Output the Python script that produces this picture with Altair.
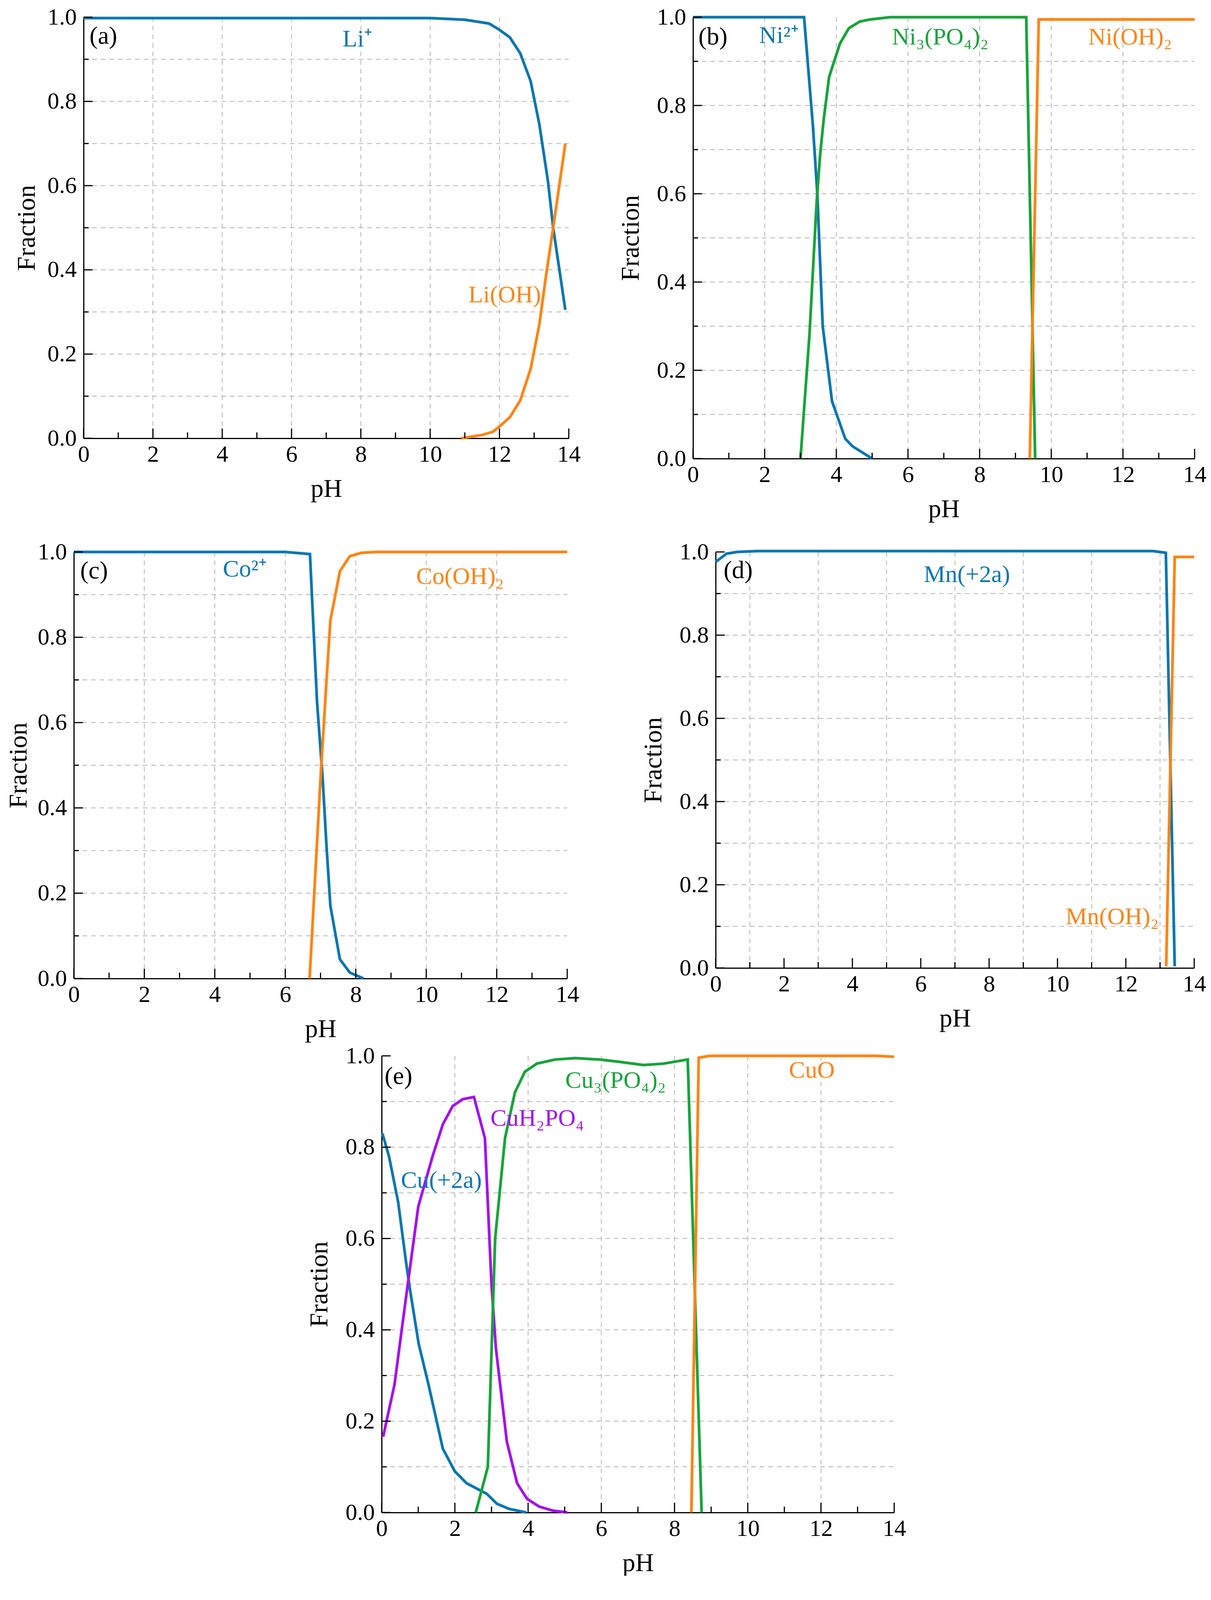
import altair as alt
import pandas as pd

FONT = "Liberation Serif"

# ---- (a) Li ----
li_plus_ph = [0, 10, 11.0, 11.7, 12.0, 12.3, 12.6, 12.9, 13.15, 13.4, 13.55, 13.9]
li_plus_frac = [0.998, 0.998, 0.994, 0.985, 0.97, 0.952, 0.914, 0.848, 0.746, 0.61, 0.5, 0.305]
li_oh_ph = [10.9, 11.5, 11.8, 12.0, 12.3, 12.6, 12.9, 13.15, 13.35, 13.55, 13.9]
li_oh_frac = [0.0, 0.008, 0.015, 0.028, 0.05, 0.09, 0.165, 0.27, 0.39, 0.5, 0.70]

# ---- (b) Ni ----
ni_plus_ph = [0, 3.1, 3.35, 3.47, 3.62, 3.88, 4.25, 4.45, 5.0]
ni_plus_frac = [1.0, 1.0, 0.75, 0.6, 0.3, 0.13, 0.045, 0.028, 0.0]
ni_po4_ph = [3.0, 3.25, 3.45, 3.55, 3.65, 3.8, 4.1, 4.35, 4.65, 4.95, 5.5, 9.3, 9.55]
ni_po4_frac = [0.0, 0.28, 0.58, 0.69, 0.77, 0.865, 0.94, 0.975, 0.99, 0.995, 1.0, 1.0, 0.0]
ni_oh_ph = [9.4, 9.65, 14.0]
ni_oh_frac = [0.0, 0.995, 0.995]

# ---- (c) Co ----
co_plus_ph = [0, 6.0, 6.7, 6.9, 7.06, 7.17, 7.28, 7.55, 7.83, 8.22]
co_plus_frac = [1.0, 1.0, 0.995, 0.65, 0.47, 0.31, 0.17, 0.045, 0.014, 0.0]
co_oh_ph = [6.69, 7.0, 7.17, 7.28, 7.55, 7.83, 8.16, 8.6, 14.0]
co_oh_frac = [0.0, 0.47, 0.7, 0.84, 0.955, 0.99, 0.998, 1.0, 1.0]

# ---- (d) Mn ----
mn_plus_ph = [0, 0.32, 0.63, 1.2, 12.8, 13.17, 13.43]
mn_plus_frac = [0.976, 0.996, 1.0, 1.002, 1.002, 0.998, 0.004]
mn_oh_ph = [13.18, 13.43, 14.0]
mn_oh_frac = [0.004, 0.988, 0.988]

# ---- (e) Cu ----
cu_plus_ph = [0.02, 0.2, 0.45, 0.68, 0.79, 1.01, 1.28, 1.67, 2.0, 2.32, 2.87, 3.15, 3.48, 3.95]
cu_plus_frac = [0.83, 0.78, 0.68, 0.54, 0.48, 0.37, 0.28, 0.14, 0.09, 0.064, 0.041, 0.019, 0.008, 0.0]
cuh2po4_ph = [0.04, 0.35, 0.68, 1.0, 1.39, 1.67, 1.94, 2.21, 2.52, 2.82, 3.0, 3.12, 3.42, 3.7, 3.97, 4.3, 4.68, 5.07]
cuh2po4_frac = [0.166, 0.28, 0.48, 0.67, 0.78, 0.85, 0.89, 0.905, 0.91, 0.82, 0.5, 0.36, 0.155, 0.064, 0.03, 0.013, 0.004, 0.0]
cu_po4_ph = [2.57, 2.9, 3.1, 3.37, 3.64, 3.91, 4.24, 4.74, 5.29, 5.94, 6.49, 7.15, 7.7, 8.36, 8.74]
cu_po4_frac = [0.0, 0.1, 0.6, 0.82, 0.92, 0.965, 0.983, 0.992, 0.995, 0.992, 0.987, 0.98, 0.983, 0.992, 0.0]
cuo_ph = [8.46, 8.66, 8.96, 13.5, 14.0]
cuo_frac = [0.0, 0.996, 1.0, 1.0, 0.998]

BLUE, ORANGE, GREEN, PURPLE = "#0b77b2", "#ff8412", "#17a53a", "#a512f0"
species_names = ["Li⁺", "Li(OH)", "Ni²⁺", "Ni₃(PO₄)₂", "Ni(OH)₂", "Co²⁺", "Co(OH)₂",
                 "Mn(+2a)", "Mn(OH)₂", "Cu(+2a)", "CuH₂PO₄", "Cu₃(PO₄)₂", "CuO"]
species_colors = [BLUE, ORANGE, BLUE, GREEN, ORANGE, BLUE, ORANGE,
                  BLUE, ORANGE, BLUE, PURPLE, GREEN, ORANGE]
color_scale = alt.Scale(domain=species_names, range=species_colors)

x_major = [0, 2, 4, 6, 8, 10, 12, 14]
x_minor = [1, 3, 5, 7, 9, 11, 13]
y_major = [0.0, 0.2, 0.4, 0.6, 0.8, 1.0]
y_minor = [0.1, 0.3, 0.5, 0.7, 0.9]
y_grid = [0.1, 0.2, 0.3, 0.4, 0.5, 0.6, 0.7, 0.8, 0.9]
x_grid_even = [2, 4, 6, 8, 10, 12]
x_grid_odd = [1, 3, 5, 7, 9, 11, 13]


def panel(series, labels, letter, letter_x, w, h, x_grid, ytitle_pad):
    xs = alt.Scale(domain=[0, 14], nice=False, zero=False)
    ys = alt.Scale(domain=[0, 1], nice=False, zero=False)
    ax = alt.Axis(values=x_major, title="pH", titlePadding=26)
    ay = alt.Axis(values=y_major, format=".1f", title="Fraction", titlePadding=ytitle_pad)

    def X(f):
        return alt.X(f, scale=xs, axis=ax)

    def Y(f):
        return alt.Y(f, scale=ys, axis=ay)

    rows = []
    for name, ph, frac in series:
        for k, (p, f) in enumerate(zip(ph, frac)):
            rows.append({"species": name, "pH": p, "frac": f, "i": k})
    df = pd.DataFrame(rows)

    grid_style = dict(color="#b5b5b5", strokeWidth=2, strokeDash=[12, 10])
    gx = alt.Chart(pd.DataFrame({"v": x_grid})).mark_rule(**grid_style).encode(
        x=X("v:Q"), y=alt.value(0), y2=alt.value(h))
    gy = alt.Chart(pd.DataFrame({"v": y_grid})).mark_rule(**grid_style).encode(
        y=Y("v:Q"), x=alt.value(0), x2=alt.value(w))

    lines = alt.Chart(df).mark_line(strokeWidth=7).encode(
        x=X("pH:Q"),
        y=Y("frac:Q"),
        color=alt.Color("species:N", scale=color_scale, legend=None),
        order="i:Q",
    )

    tick_style = dict(color="black", strokeWidth=3)
    tx1 = alt.Chart(pd.DataFrame({"v": x_major})).mark_rule(**tick_style).encode(
        x=X("v:Q"), y=alt.value(h), y2=alt.value(h - 25))
    tx2 = alt.Chart(pd.DataFrame({"v": x_minor})).mark_rule(**tick_style).encode(
        x=X("v:Q"), y=alt.value(h), y2=alt.value(h - 15))
    ty1 = alt.Chart(pd.DataFrame({"v": y_major})).mark_rule(**tick_style).encode(
        y=Y("v:Q"), x=alt.value(0), x2=alt.value(23))
    ty2 = alt.Chart(pd.DataFrame({"v": y_minor})).mark_rule(**tick_style).encode(
        y=Y("v:Q"), x=alt.value(0), x2=alt.value(13))

    lab_df = pd.DataFrame(labels, columns=["species", "x", "y"])
    txt = alt.Chart(lab_df).mark_text(font=FONT, fontSize=62).encode(
        x=X("x:Q"),
        y=Y("y:Q"),
        text="species:N",
        color=alt.Color("species:N", scale=color_scale, legend=None),
    )
    let_df = pd.DataFrame({"t": [letter], "x": [letter_x], "y": [0.955]})
    let = alt.Chart(let_df).mark_text(font=FONT, fontSize=64, align="left",
                                      color="black").encode(
        x=X("x:Q"), y=Y("y:Q"), text="t:N",
    )
    return alt.layer(gx, gy, lines, tx1, tx2, ty1, ty2, txt, let).properties(
        width=w, height=h)


def spacer(w, h=1):
    return alt.Chart(pd.DataFrame({"v": [0]})).mark_rect(opacity=0).encode(
        x=alt.value(0), x2=alt.value(1), y=alt.value(0), y2=alt.value(1)
    ).properties(width=w, height=h)


pa = panel([("Li⁺", li_plus_ph, li_plus_frac), ("Li(OH)", li_oh_ph, li_oh_frac)],
           [("Li⁺", 7.9, 0.948), ("Li(OH)", 12.15, 0.34)],
           "(a)", 0.17, 1242, 1078, x_grid_even, 19)
pb = panel([("Ni²⁺", ni_plus_ph, ni_plus_frac), ("Ni₃(PO₄)₂", ni_po4_ph, ni_po4_frac),
            ("Ni(OH)₂", ni_oh_ph, ni_oh_frac)],
           [("Ni²⁺", 2.4, 0.958), ("Ni₃(PO₄)₂", 6.9, 0.955), ("Ni(OH)₂", 12.2, 0.955)],
           "(b)", 0.15, 1284, 1130, x_grid_even, 33)
pc = panel([("Co²⁺", co_plus_ph, co_plus_frac), ("Co(OH)₂", co_oh_ph, co_oh_frac)],
           [("Co²⁺", 4.85, 0.96), ("Co(OH)₂", 10.96, 0.942)],
           "(c)", 0.18, 1263, 1092, x_grid_even, 15)
pd_ = panel([("Mn(+2a)", mn_plus_ph, mn_plus_frac), ("Mn(OH)₂", mn_oh_ph, mn_oh_frac)],
            [("Mn(+2a)", 7.35, 0.946), ("Mn(OH)₂", 11.6, 0.123)],
            "(d)", 0.23, 1225, 1065, x_grid_odd, 33)
pe = panel([("Cu(+2a)", cu_plus_ph, cu_plus_frac), ("CuH₂PO₄", cuh2po4_ph, cuh2po4_frac),
            ("Cu₃(PO₄)₂", cu_po4_ph, cu_po4_frac), ("CuO", cuo_ph, cuo_frac)],
           [("Cu(+2a)", 1.63, 0.727), ("CuH₂PO₄", 4.25, 0.863),
            ("Cu₃(PO₄)₂", 6.39, 0.946), ("CuO", 11.75, 0.968)],
           "(e)", 0.08, 1312, 1169, x_grid_even, 33)

# every row starts with a spacer so that the rows share a left origin
row1 = alt.hconcat(spacer(27), pa, spacer(95), pb, spacing=0)
row2 = alt.hconcat(spacer(6), pc, spacer(157), pd_, spacing=0)
row3 = alt.hconcat(spacer(776), pe, spacing=0)

chart = alt.vconcat(row1, spacer(1, 47), row2, spacer(1, 6), row3,
                    spacing=0).properties(
    padding={"left": 0, "top": 6, "right": 0, "bottom": 0}
).configure_view(stroke=None).configure_axis(
    domainColor="black", domainWidth=3, ticks=False, tickSize=0, grid=False,
    labelFont=FONT, labelFontSize=60, labelColor="black", labelFlush=False,
    labelOverlap=False, titleFont=FONT, titleFontSize=66,
    titleFontWeight="normal", titleColor="black",
).configure_axisX(labelPadding=12).configure_axisY(labelPadding=18)

chart.save("out.html", embed_options={"renderer": "svg", "actions": False})
